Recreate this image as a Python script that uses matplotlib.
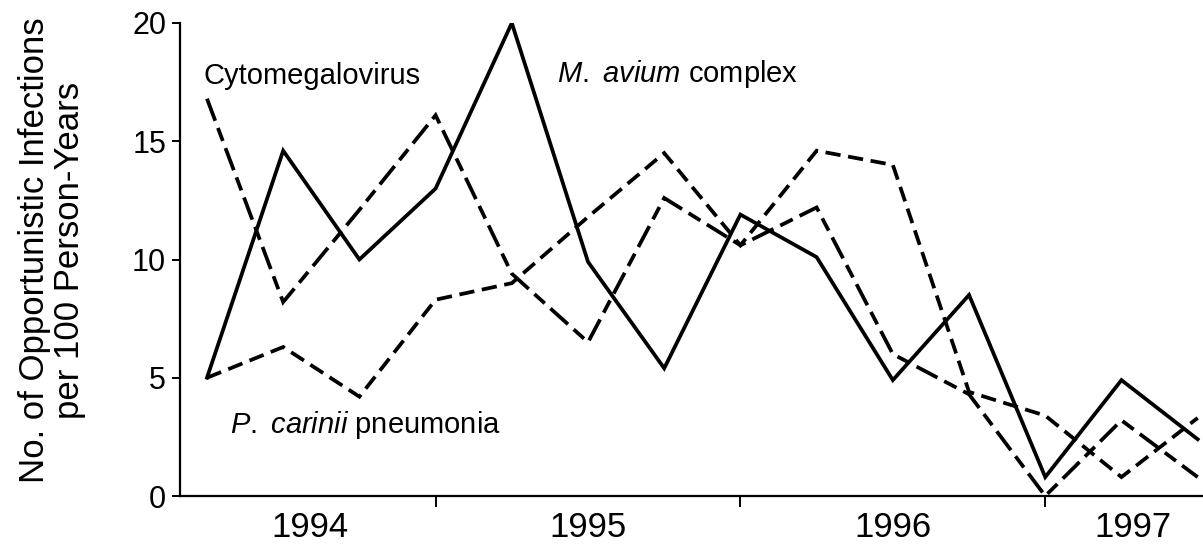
import numpy as np
import matplotlib
matplotlib.use("Agg")
import matplotlib.pyplot as plt

plt.rcParams['font.family'] = ['Liberation Sans', 'DejaVu Sans']
plt.rcParams['mathtext.fontset'] = 'custom'
plt.rcParams['mathtext.rm'] = 'Liberation Sans'
plt.rcParams['mathtext.it'] = 'Liberation Sans:italic'
plt.rcParams['lines.scale_dashes'] = False

# quarterly rates, Q1 1994 .. Q2 1997
quarters = np.arange(14)
mac = [5.0, 14.6, 10.0, 13.0, 20.0, 9.9, 5.4, 11.9, 10.1, 4.9, 8.5, 0.8, 4.9, 2.4]
cmv = [16.8, 8.2, 12.1, 16.1, 9.4, 6.5, 12.6, 10.6, 12.2, 6.0, 4.3, 0.0, 3.2, 0.8]
pcp = [5.0, 6.3, 4.2, 8.3, 9.0, 11.8, 14.5, 10.6, 14.6, 14.0, 4.4, 3.4, 0.8, 3.3]

year_labels = ["1994", "1995", "1996", "1997"]
year_label_pos = [1.35, 5.0, 9.0, 12.15]
year_ticks = [3, 7, 11]
y_ticks = [0, 5, 10, 15, 20]

fig = plt.figure(figsize=(12.03, 5.44), dpi=100)
ax = fig.add_axes([180 / 1203, 48 / 544, 1023 / 1203, 473 / 544])

lw = 2.7
ax.plot(quarters, mac, color='black', lw=lw, solid_joinstyle='miter')
ax.plot(quarters, cmv, color='black', lw=lw, dashes=(17, 5.5, 10, 5.5),
        dash_capstyle='butt', dash_joinstyle='miter')
ax.plot(quarters, pcp, color='black', lw=lw, dashes=(11, 5.5),
        dash_capstyle='butt', dash_joinstyle='miter')

ax.set_xlim(-0.354, 13.07)
ax.set_ylim(0, 20)

for s in ['top', 'right']:
    ax.spines[s].set_visible(False)
for s in ['left', 'bottom']:
    ax.spines[s].set_linewidth(1.6)

ax.set_yticks(y_ticks)
ax.tick_params(axis='y', direction='out', length=6, width=1.4, labelsize=22, pad=4)
ax.set_xticks(year_ticks)
ax.set_xticklabels([])
ax.tick_params(axis='x', which='major', direction='out', length=8, width=1.4)
ax.set_xticks(year_label_pos, minor=True)
ax.set_xticklabels(year_labels, minor=True)
ax.tick_params(axis='x', which='minor', length=0, labelsize=25, pad=11)

fig.text(52 / 1203, 1 - 250 / 544,
         "No. of Opportunistic Infections\nper 100 Person-Years",
         rotation=90, ha='center', va='center', multialignment='center',
         fontsize=25, linespacing=1.05)

ax.text(-0.05, 17.4, "Cytomegalovirus", fontsize=21, ha='left', va='baseline')
ax.text(4.59, 17.5, r"$\it{M.}$ $\it{avium}$ complex", fontsize=21, ha='left', va='baseline')
ax.text(0.30, 2.66, r"$\it{P.}$ $\it{carinii}$ pneumonia", fontsize=21, ha='left', va='baseline')

fig.savefig("out.png", dpi=100)
